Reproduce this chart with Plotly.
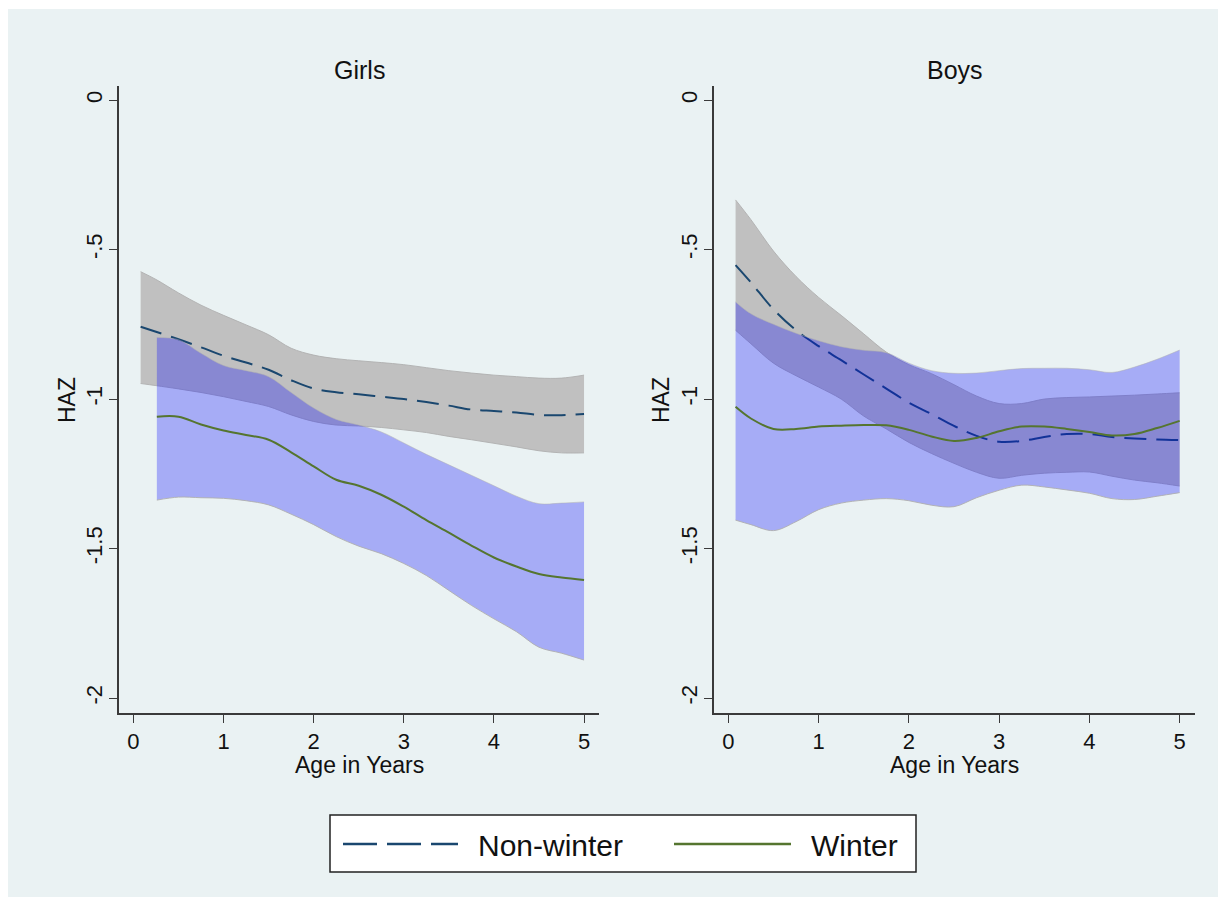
import plotly.graph_objects as go
from plotly.subplots import make_subplots

# ---------------- data ----------------
age = [0.08, 0.25, 0.5, 0.75, 1.0, 1.25, 1.5, 1.75, 2.0, 2.25, 2.5, 2.75,
       3.0, 3.25, 3.5, 3.75, 4.0, 4.25, 4.5, 4.75, 5.0]
age_girls_winter = [0.26, 0.5, 0.75, 1.0, 1.25, 1.5, 1.75, 2.0, 2.25, 2.5, 2.75,
                    3.0, 3.25, 3.5, 3.75, 4.0, 4.25, 4.5, 4.75, 5.0]

girls_nw_mean = [-0.758, -0.775, -0.80, -0.827, -0.855, -0.878, -0.902, -0.937, -0.965, -0.977, -0.984,
                 -0.992, -1.0, -1.01, -1.022, -1.035, -1.04, -1.045, -1.053, -1.054, -1.05]
girls_nw_upper = [-0.574, -0.60, -0.645, -0.686, -0.72, -0.752, -0.785, -0.83, -0.853, -0.865, -0.872,
                  -0.878, -0.885, -0.895, -0.905, -0.913, -0.92, -0.925, -0.93, -0.93, -0.92]
girls_nw_lower = [-0.948, -0.955, -0.966, -0.978, -0.992, -1.008, -1.025, -1.053, -1.075, -1.087, -1.09,
                  -1.095, -1.103, -1.112, -1.125, -1.136, -1.148, -1.16, -1.173, -1.18, -1.18]

girls_w_mean = [-1.059, -1.059, -1.085, -1.105, -1.12, -1.136, -1.178, -1.225, -1.27, -1.29, -1.32,
                -1.36, -1.405, -1.447, -1.49, -1.53, -1.56, -1.585, -1.597, -1.605]
girls_w_upper = [-0.794, -0.802, -0.847, -0.888, -0.905, -0.925, -0.978, -1.03, -1.068, -1.087, -1.11,
                 -1.147, -1.185, -1.22, -1.255, -1.29, -1.325, -1.35, -1.348, -1.344]
girls_w_lower = [-1.338, -1.328, -1.33, -1.332, -1.34, -1.354, -1.385, -1.42, -1.46, -1.492, -1.517,
                 -1.55, -1.59, -1.64, -1.69, -1.735, -1.778, -1.83, -1.85, -1.873]

boys_nw_mean = [-0.552, -0.61, -0.70, -0.77, -0.823, -0.87, -0.918, -0.965, -1.012, -1.05, -1.09,
                -1.123, -1.143, -1.14, -1.127, -1.117, -1.117, -1.127, -1.132, -1.135, -1.137]
boys_nw_upper = [-0.334, -0.40, -0.505, -0.59, -0.66, -0.72, -0.782, -0.843, -0.885, -0.915, -0.952,
                 -0.99, -1.015, -1.015, -1.0, -0.995, -0.993, -0.99, -0.987, -0.983, -0.979]
boys_nw_lower = [-0.77, -0.815, -0.88, -0.922, -0.96, -1.0, -1.057, -1.10, -1.145, -1.182, -1.215,
                 -1.245, -1.265, -1.255, -1.248, -1.245, -1.244, -1.258, -1.271, -1.28, -1.291]

boys_w_mean = [-1.026, -1.065, -1.10, -1.10, -1.092, -1.089, -1.087, -1.088, -1.103, -1.125, -1.14,
               -1.13, -1.108, -1.092, -1.092, -1.10, -1.11, -1.122, -1.117, -1.097, -1.073]
boys_w_upper = [-0.675, -0.715, -0.75, -0.78, -0.805, -0.825, -0.837, -0.845, -0.88, -0.905, -0.914,
                -0.913, -0.905, -0.898, -0.897, -0.897, -0.902, -0.911, -0.893, -0.867, -0.836]
boys_w_lower = [-1.405, -1.42, -1.44, -1.41, -1.37, -1.348, -1.338, -1.333, -1.34, -1.355, -1.36,
                -1.33, -1.305, -1.288, -1.294, -1.304, -1.315, -1.333, -1.336, -1.325, -1.313]

panel_titles = ["Girls", "Boys"]
series_names = ["Non-winter", "Winter"]
x_title = "Age in Years"
y_title = "HAZ"
y_ticks = [0, -0.5, -1, -1.5, -2]
y_tick_text = ["0", "-.5", "-1", "-1.5", "-2"]
x_ticks = [0, 1, 2, 3, 4, 5]

# ---------------- styles ----------------
FONT = "Liberation Sans, Arial, sans-serif"
NAVY = "#1a476f"
GREEN = "#55752f"
GRAY_BAND = "#c0c0c0"
BLUE_BAND = "rgba(0,0,255,0.29)"
BAND_EDGE = "rgba(175,175,175,0.9)"
BG = "#eaf2f3"
DASH = "22px,10px"
TXT = "#111"

# page has an 8px body margin; positions below are given in page pixels
OX, OY = 8, 8
W, H = 1218, 891
ML, MT = 119 - OX, 86 - OY
MR = W - (1195 - OX)
MB = H - (713 - OY)
PW = W - ML - MR
PH = H - MT - MB


def px_x(p):
    return (p - OX - ML) / PW


def px_y(p):
    return (H - MB - (p - OY)) / PH


fig = make_subplots(rows=1, cols=2, horizontal_spacing=0.1)

panels = [
    (age, girls_nw_mean, girls_nw_upper, girls_nw_lower,
     age_girls_winter, girls_w_mean, girls_w_upper, girls_w_lower),
    (age, boys_nw_mean, boys_nw_upper, boys_nw_lower,
     age, boys_w_mean, boys_w_upper, boys_w_lower),
]

for i, (xn, mn, un, ln, xw, mw, uw, lw) in enumerate(panels):
    col = i + 1
    fig.add_trace(go.Scatter(x=xn, y=ln, mode="lines", line=dict(color=BAND_EDGE, width=1, shape="spline"),
                             showlegend=False, hoverinfo="skip"), row=1, col=col)
    fig.add_trace(go.Scatter(x=xn, y=un, mode="lines", line=dict(color=BAND_EDGE, width=1, shape="spline"),
                             fill="tonexty", fillcolor=GRAY_BAND, showlegend=False, hoverinfo="skip"),
                  row=1, col=col)
    fig.add_trace(go.Scatter(x=xn, y=mn, mode="lines", name=series_names[0],
                             line=dict(color=NAVY, width=2, dash=DASH, shape="spline"),
                             showlegend=False), row=1, col=col)
    fig.add_trace(go.Scatter(x=xw, y=lw, mode="lines", line=dict(color=BAND_EDGE, width=1, shape="spline"),
                             showlegend=False, hoverinfo="skip"), row=1, col=col)
    fig.add_trace(go.Scatter(x=xw, y=uw, mode="lines",
                             line=dict(color="rgba(175,175,175,0.5)", width=1, shape="spline"),
                             fill="tonexty", fillcolor=BLUE_BAND, showlegend=False, hoverinfo="skip"),
                  row=1, col=col)
    fig.add_trace(go.Scatter(x=xw, y=mw, mode="lines", name=series_names[1],
                             line=dict(color=GREEN, width=2, shape="spline"),
                             showlegend=False), row=1, col=col)

x_ranges = [[-0.16, 5.166], [-0.159, 5.17]]
domains = [[0, px_x(599)], [px_x(714), 1.0]]
for i in range(2):
    xa = "xaxis" if i == 0 else "xaxis2"
    ya = "yaxis" if i == 0 else "yaxis2"
    fig.layout[xa].update(
        domain=domains[i], range=x_ranges[i], tickvals=x_ticks,
        showline=True, linecolor="#3a3a3a", linewidth=1.5, mirror=False,
        ticks="outside", ticklen=8, tickwidth=1.2, tickcolor="#3a3a3a",
        showgrid=False, zeroline=False,
        tickfont=dict(family=FONT, size=22, color=TXT),
    )
    fig.layout[ya].update(
        range=[-2.05, 0.047], tickvals=y_ticks, ticktext=y_tick_text, tickangle=-90,
        showline=True, linecolor="#3a3a3a", linewidth=1.5,
        ticks="outside", ticklen=8, tickwidth=1.2, tickcolor="#3a3a3a",
        showgrid=True, gridcolor=BG, gridwidth=1.2, zeroline=False,
        ticklabelstandoff=-2,
        tickfont=dict(family=FONT, size=22, color=TXT),
    )

shapes = [
    dict(type="rect", xref="paper", yref="paper", x0=px_x(7), x1=px_x(1220), y0=px_y(897), y1=px_y(9),
         fillcolor=BG, line=dict(width=0), layer="below"),
    dict(type="rect", xref="paper", yref="paper", x0=px_x(330), x1=px_x(916), y0=px_y(872), y1=px_y(815),
         fillcolor="white", line=dict(color="#222", width=1.5), layer="above"),
    dict(type="line", xref="paper", yref="paper", x0=px_x(343), x1=px_x(458), y0=px_y(844), y1=px_y(844),
         line=dict(color=NAVY, width=2.5, dash="34px,10px")),
    dict(type="line", xref="paper", yref="paper", x0=px_x(674), x1=px_x(791), y0=px_y(844), y1=px_y(844),
         line=dict(color=GREEN, width=2.5)),
]


def label(text, x, y, size, angle=0, xanchor="center"):
    return dict(text=text, xref="paper", yref="paper", x=px_x(x), y=px_y(y), showarrow=False,
                xanchor=xanchor, yanchor="middle", textangle=angle,
                font=dict(family=FONT, size=size, color=TXT))


annotations = [
    label(panel_titles[0], 359, 70, 25),
    label(panel_titles[1], 954.5, 70, 25),
    label(x_title, 359, 765, 23),
    label(x_title, 954.5, 765, 23),
    label(y_title, 67, 400, 23, angle=-90),
    label(y_title, 661, 400, 23, angle=-90),
    label(series_names[0], 476, 845, 30, xanchor="left"),
    label(series_names[1], 809, 845, 30, xanchor="left"),
]

fig.update_layout(
    width=W, height=H,
    margin=dict(l=ML, r=MR, t=MT, b=MB),
    paper_bgcolor="white", plot_bgcolor="white",
    showlegend=False,
    shapes=shapes, annotations=annotations,
    font=dict(family=FONT),
)

fig.write_html("out.html")
